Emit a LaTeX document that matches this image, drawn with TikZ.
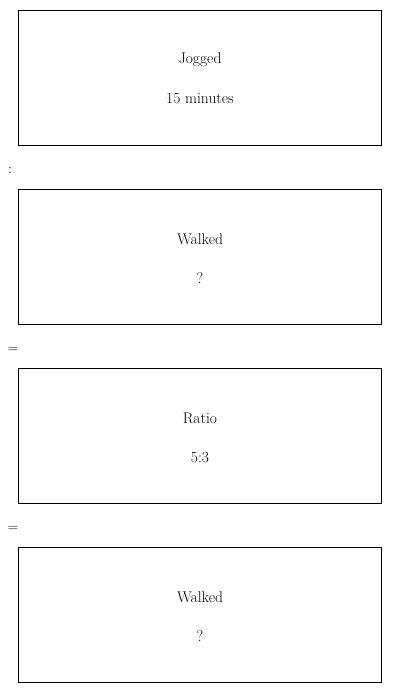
\documentclass[tikz,border=0pt]{standalone}
\begin{document}
\begin{tikzpicture}[x=1pt,y=-1pt,
  card/.style={draw=black, line width=0.8pt, minimum width=363pt, minimum height=135pt, inner sep=0pt, anchor=north west},
  lbl/.style={font=\fontsize{15.5}{18}\selectfont, anchor=center},
  sym/.style={font=\fontsize{14}{16}\selectfont, anchor=center}]
\useasboundingbox (0,0) rectangle (400,693);
\node[card] (b1) at (18,10) {};
\node[card] (b2) at (18,189) {};
\node[card] (b3) at (18,368) {};
\node[card] (b4) at (18,547) {};
\node[lbl] (t1a) at (200,60) {Jogged};
\node[lbl] (t1b) at (200,99) {15 minutes};
\node[lbl] (t2a) at (200,239) {Walked};
\node[lbl] (t2b) at (200,278) {?};
\node[lbl] (t3a) at (200,418) {Ratio};
\node[lbl] (t3b) at (200,457) {5:3};
\node[lbl] (t4a) at (200,597) {Walked};
\node[lbl] (t4b) at (200,636) {?};
\node[sym] (s1) at (10,170) {:};
\node[sym] (s2) at (13,350) {=};
\node[sym] (s3) at (13,529) {=};
\end{tikzpicture}
\end{document}
